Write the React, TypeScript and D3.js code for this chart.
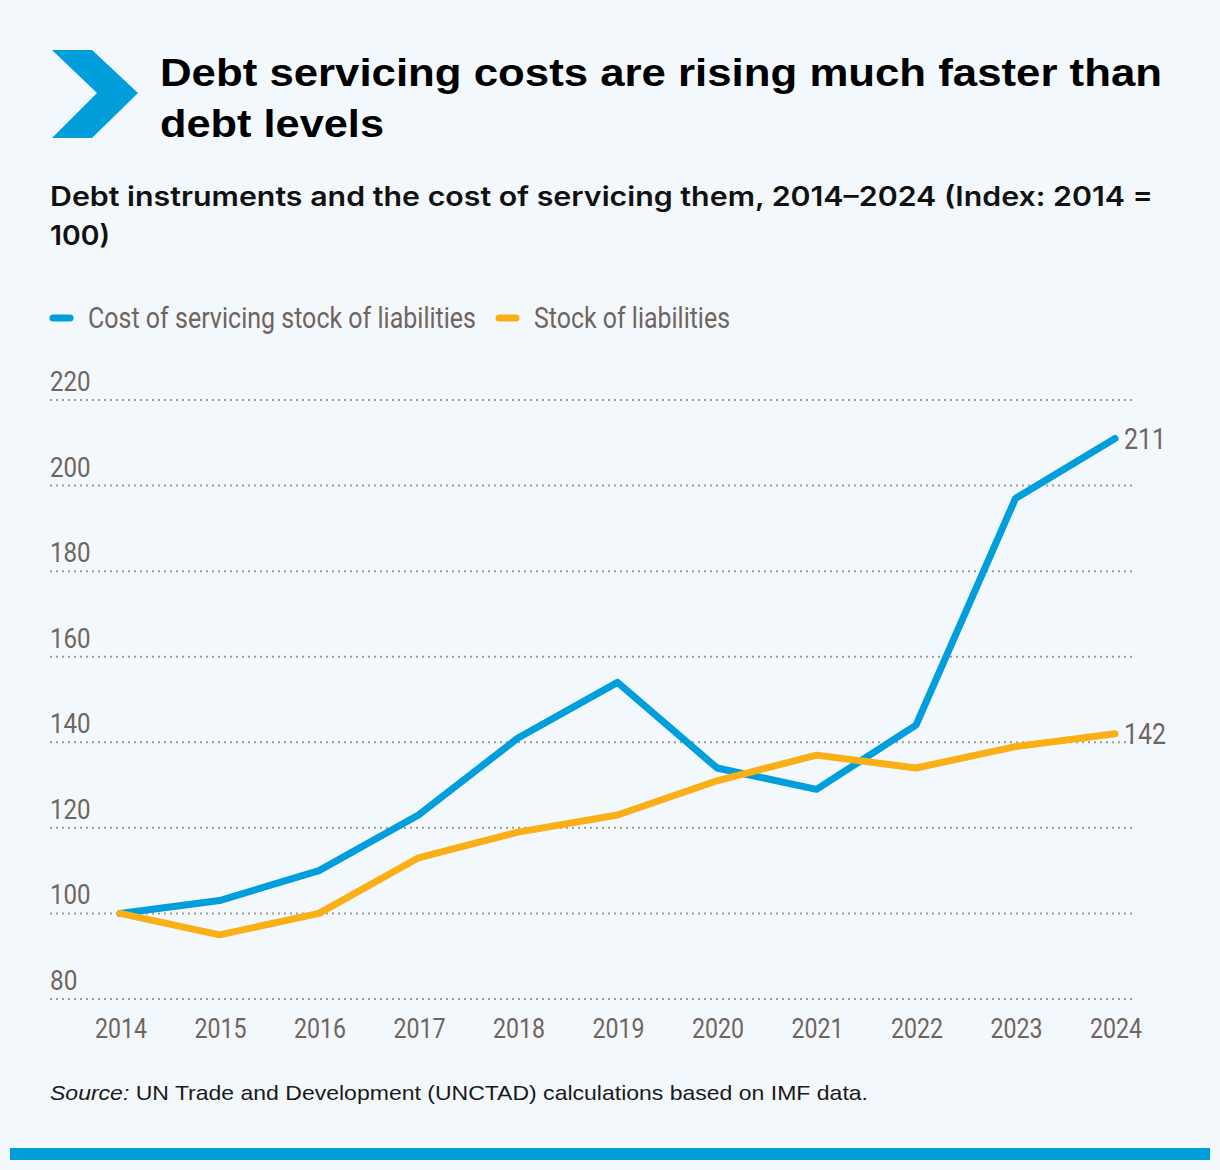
import React from "react";
import * as d3 from "d3";

const years = [2014, 2015, 2016, 2017, 2018, 2019, 2020, 2021, 2022, 2023, 2024];
const costOfServicing = [100, 103, 110, 123, 141, 154, 134, 129, 144, 197, 211];
const stockOfLiabilities = [100, 95, 100, 113, 119, 123, 131, 137, 134, 139, 142];
const yTicks = [80, 100, 120, 140, 160, 180, 200, 220];
const seriesNames = ["Cost of servicing stock of liabilities", "Stock of liabilities"];
const endLabels = ["211", "142"];

const W = 1220;
const H = 1170;
const BG = "#f3f8fc";
const BLUE = "#009edb";
const ORANGE = "#fbaf17";
const GRAY = "#6f655e";
const GRID = "#a39a94";
const COND = "'Roboto', 'Liberation Sans', sans-serif";
const SANS = "'Liberation Sans', Arial, Helvetica, sans-serif";

export default function App() {
  const x = d3.scaleLinear().domain([2014, 2024]).range([120, 1115]);
  const y = d3.scaleLinear().domain([80, 220]).range([999, 400]);
  const line = d3
    .line<number>()
    .x((_, i) => x(years[i]))
    .y((d) => y(d));

  const series = [
    { values: costOfServicing, color: BLUE },
    { values: stockOfLiabilities, color: ORANGE },
  ];

  const digitW = 13.2;

  return (
    <svg
      width={W}
      height={H}
      style={{ position: "absolute", left: 0, top: 0, display: "block" }}
    >
      <rect x={0} y={0} width={W} height={H} fill={BG} />

      {/* chevron */}
      <polygon points="52,50 92,50 138,93 92,138 52,138 97,93" fill={BLUE} />

      {/* title */}
      <text x={160} y={86} fontFamily={SANS} fontWeight={700} fontSize={39} fill="#000" textLength={1002} lengthAdjust="spacingAndGlyphs">
        Debt servicing costs are rising much faster than
      </text>
      <text x={160} y={137} fontFamily={SANS} fontWeight={700} fontSize={39} fill="#000" textLength={224} lengthAdjust="spacingAndGlyphs">
        debt levels
      </text>

      {/* subtitle */}
      <text x={50} y={206} fontFamily="Inter, 'Liberation Sans', sans-serif" fontWeight={600} fontSize={27} fill="#111" textLength={1103} lengthAdjust="spacingAndGlyphs">
        Debt instruments and the cost of servicing them, 2014–2024 (Index: 2014 =
      </text>
      <text x={50} y={245} fontFamily="Inter, 'Liberation Sans', sans-serif" fontWeight={600} fontSize={27} fill="#111" textLength={60} lengthAdjust="spacingAndGlyphs">
        100)
      </text>

      {/* legend */}
      <line x1={53} x2={70} y1={318} y2={318} stroke={BLUE} strokeWidth={7} strokeLinecap="round" />
      <text x={88} y={328} fontFamily={COND} fontWeight={400} fontSize={29} fill={GRAY} textLength={388} lengthAdjust="spacingAndGlyphs">
        {seriesNames[0]}
      </text>
      <line x1={499} x2={516} y1={318} y2={318} stroke={ORANGE} strokeWidth={7} strokeLinecap="round" />
      <text x={534} y={328} fontFamily={COND} fontWeight={400} fontSize={29} fill={GRAY} textLength={196} lengthAdjust="spacingAndGlyphs">
        {seriesNames[1]}
      </text>

      {/* grid + y labels */}
      {yTicks.map((t) => (
        <g key={t}>
          <line x1={50} x2={1132} y1={y(t)} y2={y(t)} stroke={GRID} strokeWidth={2} strokeDasharray="2,4" />
          <text x={50} y={y(t) - 9} fontFamily={COND} fontWeight={400} fontSize={27} fill={GRAY} textLength={String(t).length * digitW + 1} lengthAdjust="spacingAndGlyphs">
            {t}
          </text>
        </g>
      ))}

      {/* x labels */}
      {years.map((yr) => (
        <text key={yr} x={x(yr) + 1} y={1038} textAnchor="middle" fontFamily={COND} fontWeight={400} fontSize={27} fill={GRAY} textLength={52} lengthAdjust="spacingAndGlyphs">
          {yr}
        </text>
      ))}

      {/* lines */}
      {series.map((s, i) => (
        <path key={i} d={line(s.values) || ""} fill="none" stroke={s.color} strokeWidth={7} strokeLinejoin="round" strokeLinecap="round" />
      ))}

      {/* end labels */}
      {series.map((s, i) => (
        <text key={i} x={x(2024) + 9} y={y(s.values[s.values.length - 1]) + 10} fontFamily={COND} fontWeight={400} fontSize={29} fill={GRAY} textLength={42} lengthAdjust="spacingAndGlyphs">
          {endLabels[i]}
        </text>
      ))}

      {/* source */}
      <text x={50} y={1100} fontFamily={SANS} fontSize={21} fill="#1a1a1a" textLength={818} lengthAdjust="spacingAndGlyphs">
        <tspan fontStyle="italic">Source:</tspan>
        <tspan> UN Trade and Development (UNCTAD) calculations based on IMF data.</tspan>
      </text>

      {/* bottom bar */}
      <rect x={10} y={1148} width={1200} height={12} fill={BLUE} />
    </svg>
  );
}
